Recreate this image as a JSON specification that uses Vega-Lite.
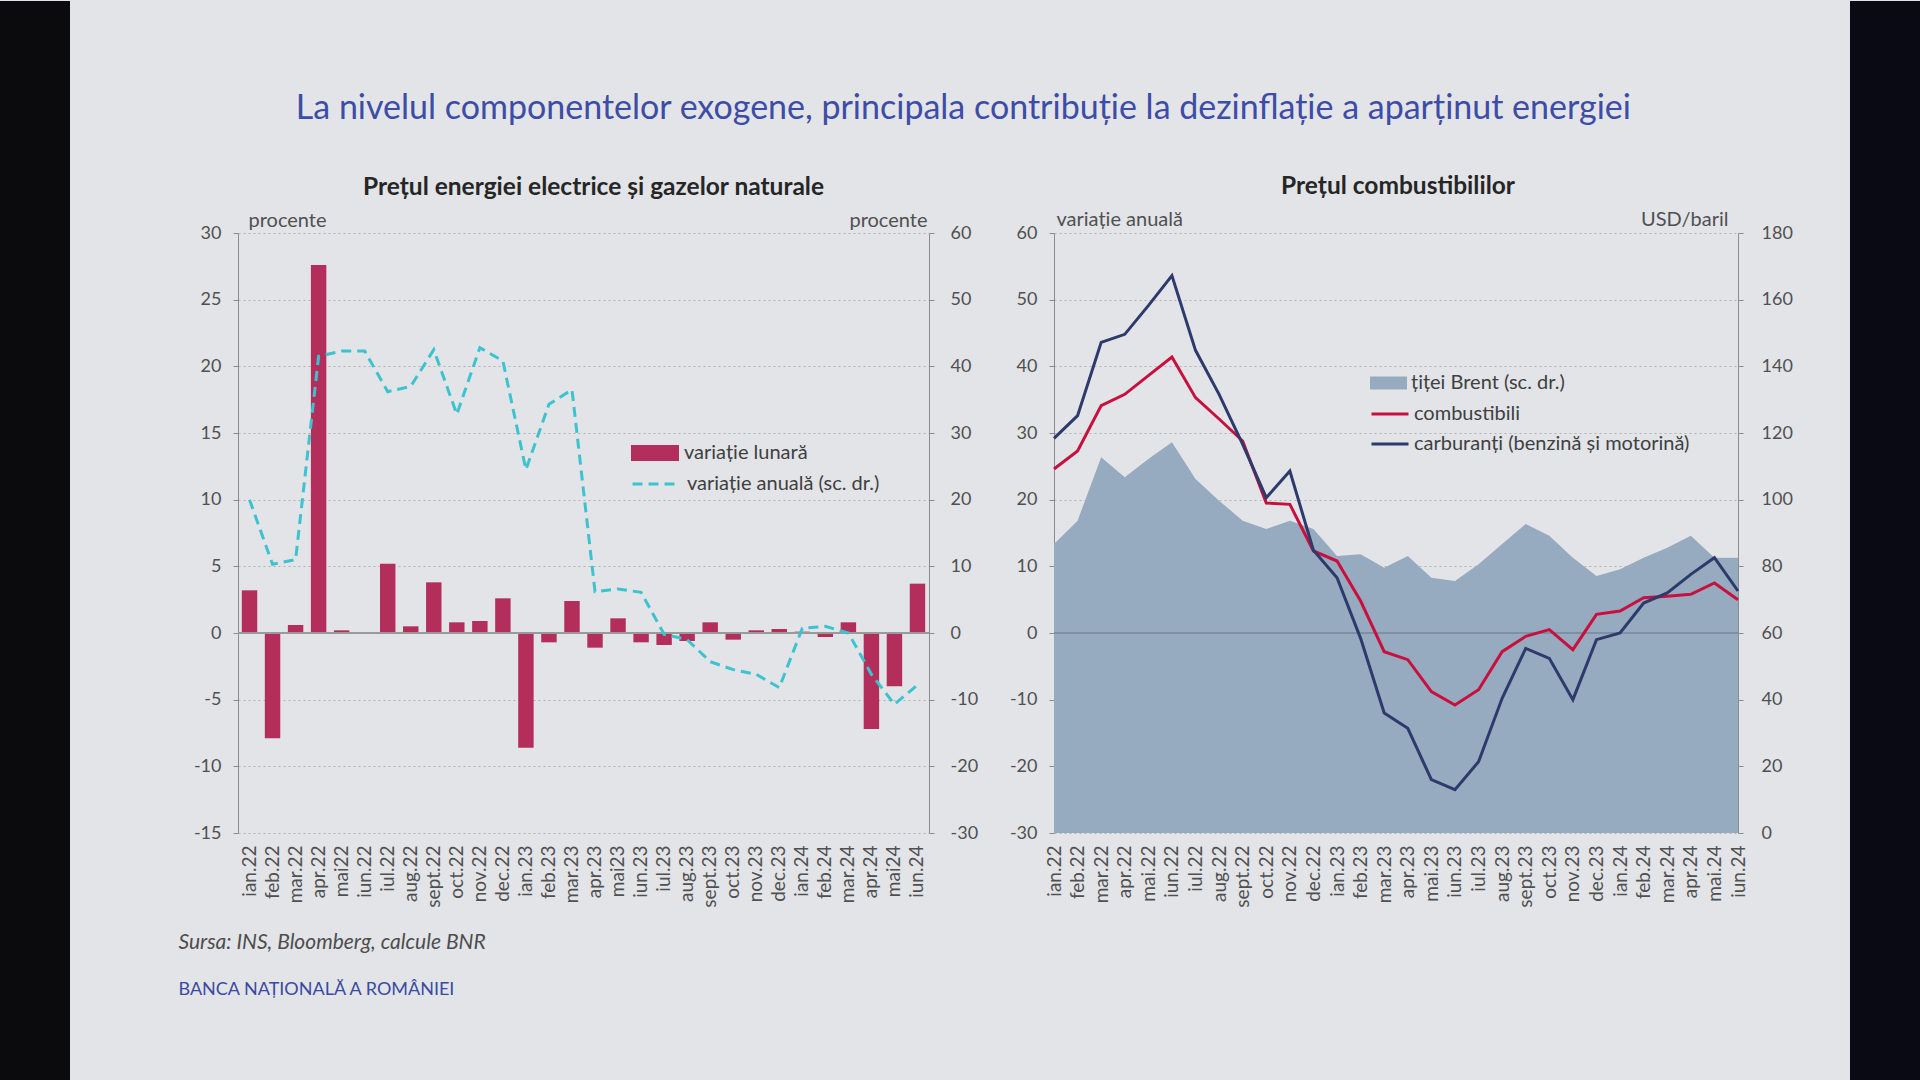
{
  "$schema": "https://vega.github.io/schema/vega-lite/v6.json",
  "background": "#e2e4e8",
  "padding": 0,
  "spacing": 0,
  "config": {
    "font": "Lato",
    "view": {"stroke": null},
    "axis": {"labelFont": "Lato", "titleFont": "Lato", "labelColor": "#505050", "titleColor": "#505050", "domainColor": "#8c8c8c", "tickColor": "#8c8c8c"},
    "legend": {"labelFont": "Lato", "labelColor": "#404040", "labelFontSize": 20, "padding": 0, "labelLimit": 500}
  },
  "datasets": {
    "energie": [
      {"luna": "ian.22", "lunar": 3.2, "anual": 20.0},
      {"luna": "feb.22", "lunar": -7.9, "anual": 10.3},
      {"luna": "mar.22", "lunar": 0.6, "anual": 11.0},
      {"luna": "apr.22", "lunar": 27.6, "anual": 41.5},
      {"luna": "mai22", "lunar": 0.2, "anual": 42.3},
      {"luna": "iun.22", "lunar": 0.0, "anual": 42.3},
      {"luna": "iul.22", "lunar": 5.2, "anual": 36.2},
      {"luna": "aug.22", "lunar": 0.5, "anual": 37.0},
      {"luna": "sept.22", "lunar": 3.8, "anual": 42.5},
      {"luna": "oct.22", "lunar": 0.8, "anual": 32.8},
      {"luna": "nov.22", "lunar": 0.9, "anual": 42.8},
      {"luna": "dec.22", "lunar": 2.6, "anual": 40.8},
      {"luna": "ian.23", "lunar": -8.6, "anual": 24.5},
      {"luna": "feb.23", "lunar": -0.7, "anual": 34.3},
      {"luna": "mar.23", "lunar": 2.4, "anual": 36.5},
      {"luna": "apr.23", "lunar": -1.1, "anual": 6.2},
      {"luna": "mai23", "lunar": 1.1, "anual": 6.6},
      {"luna": "iun.23", "lunar": -0.7, "anual": 6.1},
      {"luna": "iul.23", "lunar": -0.9, "anual": -0.2},
      {"luna": "aug.23", "lunar": -0.6, "anual": -1.0},
      {"luna": "sept.23", "lunar": 0.8, "anual": -4.3},
      {"luna": "oct.23", "lunar": -0.5, "anual": -5.5},
      {"luna": "nov.23", "lunar": 0.2, "anual": -6.2},
      {"luna": "dec.23", "lunar": 0.3, "anual": -8.2},
      {"luna": "ian.24", "lunar": 0.1, "anual": 0.7},
      {"luna": "feb.24", "lunar": -0.3, "anual": 1.0},
      {"luna": "mar.24", "lunar": 0.8, "anual": 0.0},
      {"luna": "apr.24", "lunar": -7.2, "anual": -6.2},
      {"luna": "mai24", "lunar": -4.0, "anual": -10.7},
      {"luna": "iun.24", "lunar": 3.7, "anual": -7.8}
    ],
    "combustibil": [
      {"luna": "ian.22", "brent": 86.7, "comb": 24.6, "carb": 29.2},
      {"luna": "feb.22", "brent": 93.7, "comb": 27.3, "carb": 32.6},
      {"luna": "mar.22", "brent": 112.7, "comb": 34.1, "carb": 43.6},
      {"luna": "apr.22", "brent": 106.7, "comb": 35.8, "carb": 44.8},
      {"luna": "mai.22", "brent": 112.2, "comb": 38.6, "carb": 49.1},
      {"luna": "iun.22", "brent": 117.2, "comb": 41.4, "carb": 53.6},
      {"luna": "iul.22", "brent": 106.2, "comb": 35.3, "carb": 42.4},
      {"luna": "aug.22", "brent": 99.7, "comb": 32.1, "carb": 35.8},
      {"luna": "sept.22", "brent": 93.7, "comb": 28.8, "carb": 28.3},
      {"luna": "oct.22", "brent": 91.2, "comb": 19.5, "carb": 20.3},
      {"luna": "nov.22", "brent": 93.7, "comb": 19.3, "carb": 24.3},
      {"luna": "dec.22", "brent": 91.2, "comb": 12.3, "carb": 12.4},
      {"luna": "ian.23", "brent": 83.1, "comb": 10.8, "carb": 8.3},
      {"luna": "feb.23", "brent": 83.6, "comb": 4.8, "carb": -0.8},
      {"luna": "mar.23", "brent": 79.6, "comb": -2.8, "carb": -12.0},
      {"luna": "apr.23", "brent": 83.1, "comb": -4.0, "carb": -14.3},
      {"luna": "mai.23", "brent": 76.6, "comb": -8.8, "carb": -22.0},
      {"luna": "iun.23", "brent": 75.6, "comb": -10.8, "carb": -23.5},
      {"luna": "iul.23", "brent": 80.6, "comb": -8.5, "carb": -19.3},
      {"luna": "aug.23", "brent": 86.7, "comb": -2.8, "carb": -9.8},
      {"luna": "sept.23", "brent": 92.7, "comb": -0.5, "carb": -2.3},
      {"luna": "oct.23", "brent": 89.2, "comb": 0.5, "carb": -3.8},
      {"luna": "nov.23", "brent": 82.6, "comb": -2.5, "carb": -10.0},
      {"luna": "dec.23", "brent": 77.1, "comb": 2.8, "carb": -1.0},
      {"luna": "ian.24", "brent": 79.1, "comb": 3.3, "carb": 0.0},
      {"luna": "feb.24", "brent": 82.6, "comb": 5.3, "carb": 4.5},
      {"luna": "mar.24", "brent": 85.6, "comb": 5.5, "carb": 6.0},
      {"luna": "apr.24", "brent": 89.2, "comb": 5.8, "carb": 8.8},
      {"luna": "mai.24", "brent": 82.6, "comb": 7.5, "carb": 11.3},
      {"luna": "iun.24", "brent": 82.6, "comb": 5.0, "carb": 6.3}
    ]
  },
  "hconcat": [
    {
      "width": 70, "height": 1080,
      "view": {"fill": "#0b0b0e", "stroke": null},
      "data": {"values": [{}]},
      "mark": {"type": "text", "text": ""},
      "encoding": {}
    },
    {
      "width": 108, "height": 10,
      "data": {"values": [{}]},
      "mark": {"type": "text", "text": ""},
      "encoding": {}
    },
    {
      "spacing": 0,
      "vconcat": [
        {
          "width": 10, "height": 90,
          "data": {"values": [{}]},
          "mark": {"type": "text", "text": ""},
          "encoding": {}
        },
        {
          "title": {
            "text": "La nivelul componentelor exogene, principala contribuție la dezinflație a aparținut energiei",
            "orient": "top", "anchor": "middle", "offset": 48, "dx": -22,
            "font": "Lato", "fontSize": 34, "fontWeight": "normal", "color": "#3d4ca6"
          },
          "vconcat": [
            {
              "spacing": 31,
              "resolve": {"scale": {"fill": "independent", "stroke": "independent"}, "legend": {"fill": "independent", "stroke": "independent"}},
              "title": {
                "text": "Sursa: INS, Bloomberg, calcule BNR",
                "subtitle": "BANCA NAȚIONALĂ A ROMÂNIEI",
                "orient": "bottom", "anchor": "start", "offset": 25, "dx": -15,
                "font": "Lato", "fontSize": 21, "fontStyle": "italic", "fontWeight": "normal", "color": "#4d4d4d",
                "subtitleFont": "Lato", "subtitleFontSize": 18, "subtitleColor": "#3b4aa0", "subtitlePadding": 28
              },
              "hconcat": [
                {
                  "width": 691, "height": 600,
                  "data": {"name": "energie"},
                  "title": {"text": "Prețul energiei electrice și gazelor naturale", "font": "Lato", "fontSize": 24.5, "fontWeight": "bold", "color": "#262626", "offset": 10, "anchor": "middle", "dx": 10},
                  "layer": [
                    {
                      "layer": [
                        {
                          "mark": {"type": "bar", "color": "#b32e5a"},
                          "encoding": {
                            "x": {"field": "luna", "type": "ordinal", "sort": null,
                                  "scale": {"paddingInner": 0.33, "paddingOuter": 0.165},
                                  "axis": {"title": null, "labelAngle": -90, "domain": false, "ticks": false, "labelPadding": 12, "labelFontSize": 19}},
                            "y": {"field": "lunar", "type": "quantitative", "scale": {"domain": [-15, 30], "nice": false},
                                  "axis": {"title": "procente", "titleAngle": 0, "titleX": 10, "titleY": -7, "titleAlign": "left", "titleBaseline": "alphabetic",
                                           "titleFontSize": 20, "titleFontWeight": "normal",
                                           "values": [-15, -10, -5, 0, 5, 10, 15, 20, 25, 30], "grid": true, "gridDash": [2, 3], "gridColor": "#b3b3b3",
                                           "labelExpr": "replace(datum.label, '−', '-')",
                                           "tickSize": 5, "labelPadding": 12, "labelFontSize": 18}},
                            "fill": {"datum": "variație lunară", "scale": {"range": ["#b32e5a"]},
                                     "legend": {"orient": "none", "legendX": 393, "legendY": 210, "title": null,
                                                "symbolType": "M-1,-0.33H1V0.33H-1Z", "symbolSize": 2304, "symbolStrokeWidth": 0, "symbolOpacity": 1,
                                                "clipHeight": 20, "labelOffset": 5}}
                          }
                        },
                        {
                          "mark": {"type": "rule", "color": "#9a9a9a", "strokeWidth": 1.5},
                          "encoding": {"y": {"datum": 0}}
                        }
                      ]
                    },
                    {
                      "mark": {"type": "line", "strokeWidth": 3, "strokeDash": [10, 6]},
                      "encoding": {
                        "x": {"field": "luna", "type": "ordinal", "sort": null},
                        "y": {"field": "anual", "type": "quantitative", "scale": {"domain": [-30, 60], "nice": false},
                              "axis": {"orient": "right", "title": "procente", "titleAngle": 0, "titleX": -2, "titleY": -7, "titleAlign": "right", "titleBaseline": "alphabetic",
                                       "titleFontSize": 20, "titleFontWeight": "normal",
                                       "values": [-30, -20, -10, 0, 10, 20, 30, 40, 50, 60], "grid": false,
                                       "labelExpr": "replace(datum.label, '−', '-')",
                                       "tickSize": 5, "labelPadding": 16, "labelFontSize": 18}},
                        "stroke": {"datum": "variație anuală (sc. dr.)", "scale": {"range": ["#3cc3cf"]},
                                   "legend": {"orient": "none", "legendX": 393, "legendY": 241, "title": null,
                                              "symbolType": "stroke", "symbolSize": 2304, "symbolStrokeWidth": 3, "symbolDash": [10, 6],
                                              "clipHeight": 20, "labelOffset": 5}}
                      }
                    }
                  ],
                  "resolve": {"scale": {"y": "independent"}}
                },
                {
                  "width": 684, "height": 600,
                  "data": {"name": "combustibil"},
                  "title": {"text": "Prețul combustibililor", "font": "Lato", "fontSize": 24.5, "fontWeight": "bold", "color": "#262626", "offset": 10, "anchor": "middle", "dx": 2},
                  "layer": [
                    {
                      "mark": {"type": "area", "color": "#97abc0", "opacity": 1},
                      "encoding": {
                        "x": {"field": "luna", "type": "ordinal", "sort": null, "scale": {"type": "point", "padding": 0},
                              "axis": {"title": null, "labelAngle": -90, "domain": false, "ticks": false, "labelPadding": 12, "labelFontSize": 19}},
                        "y": {"field": "brent", "type": "quantitative", "scale": {"domain": [0, 180], "nice": false},
                              "axis": {"orient": "right", "title": "USD/baril", "titleAngle": 0, "titleX": -10, "titleY": -8, "titleAlign": "right", "titleBaseline": "alphabetic",
                                       "titleFontSize": 20, "titleFontWeight": "normal",
                                       "values": [0, 20, 40, 60, 80, 100, 120, 140, 160, 180], "grid": false,
                                       "tickSize": 5, "labelPadding": 18, "labelFontSize": 18}},
                        "fill": {"datum": "țiței Brent (sc. dr.)", "scale": {"range": ["#97abc0"]},
                                 "legend": {"orient": "none", "legendX": 316, "legendY": 140, "title": null,
                                            "symbolType": "M-1,-0.35H1V0.35H-1Z", "symbolSize": 1369, "symbolStrokeWidth": 0, "symbolOpacity": 1,
                                            "clipHeight": 20, "labelOffset": 4}}
                      }
                    },
                    {
                      "layer": [
                        {
                          "mark": {"type": "rule", "color": "#7f8fa5", "strokeWidth": 1.5},
                          "encoding": {"y": {"datum": 0}}
                        },
                        {
                          "mark": {"type": "line", "strokeWidth": 3},
                          "encoding": {
                            "x": {"field": "luna", "type": "ordinal", "sort": null},
                            "y": {"field": "comb", "type": "quantitative", "scale": {"domain": [-30, 60], "nice": false},
                                  "axis": {"orient": "left", "title": "variație anuală", "titleAngle": 0, "titleX": 2, "titleY": -8, "titleAlign": "left", "titleBaseline": "alphabetic",
                                           "titleFontSize": 20, "titleFontWeight": "normal",
                                           "values": [-30, -20, -10, 0, 10, 20, 30, 40, 50, 60], "grid": true, "gridDash": [2, 3], "gridColor": "#b3b3b3",
                                           "labelExpr": "replace(datum.label, '−', '-')",
                                           "tickSize": 5, "labelPadding": 12, "labelFontSize": 18}},
                            "stroke": {"datum": "combustibili",
                                       "scale": {"domain": ["combustibili", "carburanți (benzină și motorină)"], "range": ["#c8103e", "#2d3a6b"]},
                                       "legend": {"orient": "none", "legendX": 316, "legendY": 171, "title": null,
                                                  "symbolType": "stroke", "symbolSize": 1369, "symbolStrokeWidth": 3,
                                                  "clipHeight": 20, "rowPadding": 10, "labelOffset": 4}}
                          }
                        },
                        {
                          "mark": {"type": "line", "strokeWidth": 3},
                          "encoding": {
                            "x": {"field": "luna", "type": "ordinal", "sort": null},
                            "y": {"field": "carb", "type": "quantitative", "scale": {"domain": [-30, 60], "nice": false}},
                            "stroke": {"datum": "carburanți (benzină și motorină)"}
                          }
                        }
                      ]
                    }
                  ],
                  "resolve": {"scale": {"y": "independent"}}
                }
              ]
            }
          ]
        }
      ]
    },
    {
      "width": 57, "height": 10,
      "data": {"values": [{}]},
      "mark": {"type": "text", "text": ""},
      "encoding": {}
    },
    {
      "width": 71, "height": 1080,
      "view": {"fill": "#0a0a14", "stroke": null},
      "data": {"values": [{}]},
      "mark": {"type": "text", "text": ""},
      "encoding": {}
    }
  ]
}
